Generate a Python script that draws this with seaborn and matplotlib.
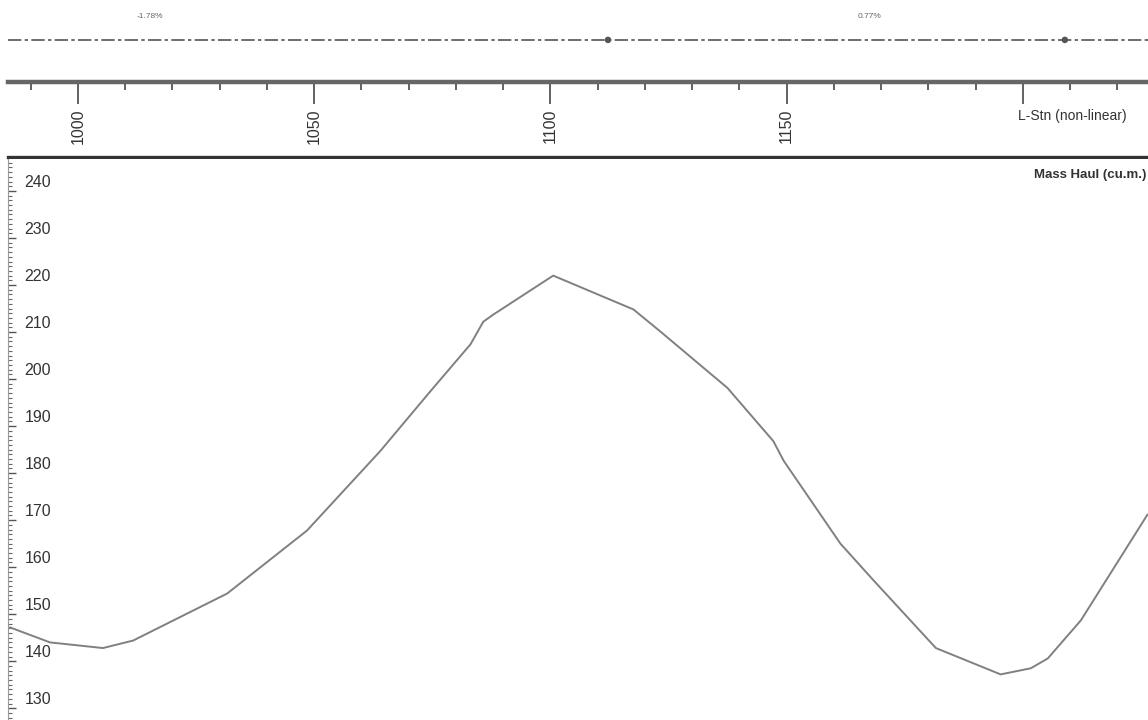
import matplotlib
matplotlib.use("Agg")
import matplotlib.pyplot as plt
import seaborn as sns
import numpy as np
import pandas as pd
from matplotlib.ticker import MultipleLocator

# ---- data ----
station = [985.6, 994.1, 1005.3, 1011.7, 1031.6, 1048.5, 1064.0, 1074.6, 1083.1,
           1085.8, 1087.9, 1100.6, 1117.6, 1123.3, 1137.5, 1147.2, 1149.4, 1161.4,
           1168.4, 1181.6, 1195.3, 1201.7, 1205.3, 1212.3, 1226.4]
mass_haul = [147.2, 144.0, 142.8, 144.4, 154.4, 167.8, 184.7, 197.4, 207.4,
             212.2, 213.7, 222.0, 214.8, 210.1, 198.1, 186.8, 182.6, 165.0,
             157.2, 142.8, 137.2, 138.5, 140.6, 148.7, 171.2]
station_labels = [1000, 1050, 1100, 1150]
y_labels = [130, 140, 150, 160, 170, 180, 190, 200, 210, 220, 230, 240]
grade_text = ["-1.78%", "0.77%"]
grade_text_stn = [1015.2, 1167.6]
vip_stn = [1112.2, 1208.9]

XLIM = (985.2, 1226.5)

sns.set_theme(style="white")
plt.rcParams['font.family'] = ['Liberation Sans', 'DejaVu Sans']

fig = plt.figure(figsize=(11.48, 7.2), dpi=100)
W, H = 1148.0, 720.0
left = 8 / W
width = 1140 / W

# ---- top strip (grades) ----
ax_top = fig.add_axes([left, 1 - 70 / H, width, 70 / H])
ax_top.set_xlim(*XLIM)
ax_top.set_ylim(0, 1)
ax_top.axhline(0.43, color="#555555", lw=1.2, ls=(0, (8, 2, 2, 2)))
sns.scatterplot(x=vip_stn, y=[0.43] * len(vip_stn), ax=ax_top, color="#555555",
                s=22, edgecolor="none", zorder=3)
for t, s in zip(grade_text, grade_text_stn):
    ax_top.text(s, 0.77, t, ha="center", va="center", fontsize=6, color="#666666")
ax_top.axis("off")

# ---- station axis ----
ax_st = fig.add_axes([left, 1 - 157 / H, width, 75 / H])
ax_st.set_xlim(*XLIM)
ax_st.set_ylim(0, 1)
for sp in ["left", "right"]:
    ax_st.spines[sp].set_visible(False)
ax_st.spines["top"].set_linewidth(3.2)
ax_st.spines["top"].set_color("#666666")
ax_st.spines["bottom"].set_linewidth(2.4)
ax_st.spines["bottom"].set_color("#333333")
ax_st.xaxis.set_ticks_position("top")
ax_st.xaxis.set_major_locator(MultipleLocator(50))
ax_st.xaxis.set_minor_locator(MultipleLocator(10))
ax_st.tick_params(axis="x", which="major", direction="in", length=16, width=1.3,
                  color="#555555", labeltop=False, labelbottom=False, top=True, bottom=False)
ax_st.tick_params(axis="x", which="minor", direction="in", length=6, width=1.3,
                  color="#555555", top=True, bottom=False)
ax_st.set_yticks([])
for s in station_labels:
    ax_st.text(s, 0.64, str(s), rotation=90, ha="center", va="top",
               fontsize=11.5, color="#333333")
ax_st.text(1200 - 1.0, 0.55, "L-Stn (non-linear)", ha="left", va="center",
           fontsize=10, color="#333333")

# ---- main mass haul axes ----
ax = fig.add_axes([left, 0, width, 561 / H])
df = pd.DataFrame({"station": station, "mass_haul": mass_haul})
sns.lineplot(data=df, x="station", y="mass_haul", sort=False, ax=ax,
             color="#808080", lw=1.4)
ax.set_xlim(*XLIM)
ax.set_ylim(127.5, 246.8)
ax.set_xlabel("")
ax.set_ylabel("")
ax.set_xticks([])
for sp in ["top", "right", "bottom"]:
    ax.spines[sp].set_visible(False)
ax.spines["left"].set_color("#999999")
ax.spines["left"].set_linewidth(0.8)
ax.yaxis.set_major_locator(MultipleLocator(10))
ax.yaxis.set_minor_locator(MultipleLocator(1))
ax.tick_params(axis="y", which="major", direction="in", length=6, width=1.0,
               color="#555555", left=True, labelleft=False)
ax.tick_params(axis="y", which="minor", direction="in", length=3, width=0.8,
               color="#666666", left=True)
trans = matplotlib.transforms.blended_transform_factory(ax.transAxes, ax.transData)
for v in y_labels:
    ax.text(0.0145, v + 0.8, str(v), transform=trans, ha="left", va="baseline",
            fontsize=11.5, color="#333333")
ax.text(0.999, 1 - 16 / 561, "Mass Haul (cu.m.)", transform=ax.transAxes,
        ha="right", va="center", fontsize=9.5, fontweight="bold", color="#333333")

fig.savefig("out.png", dpi=100)
